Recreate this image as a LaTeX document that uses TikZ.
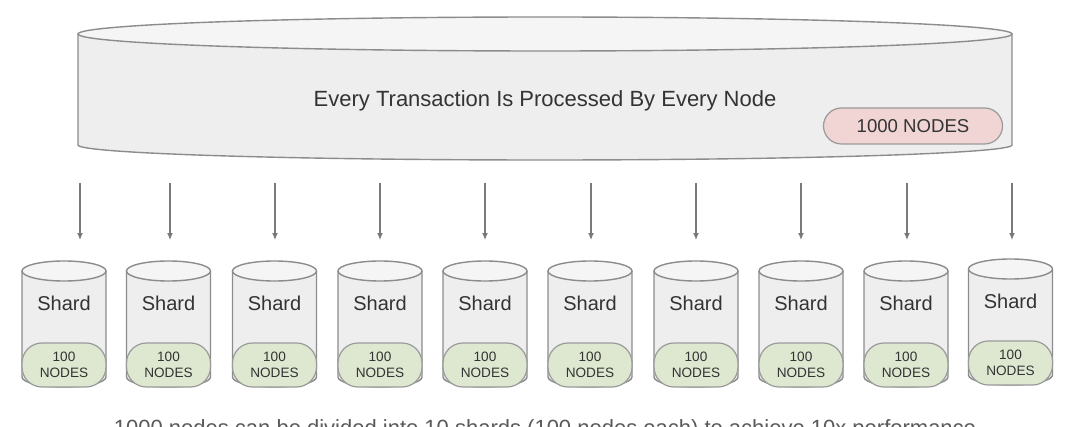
\documentclass[tikz,border=0pt]{standalone}
\usepackage{fontspec}
\setmainfont{Liberation Sans}
\usetikzlibrary{arrows.meta}
\definecolor{cylbody}{HTML}{EEEEEE}
\definecolor{cyltop}{HTML}{F5F5F5}
\definecolor{cylline}{HTML}{8C8C8C}
\definecolor{pinkfill}{HTML}{F1D4D4}
\definecolor{greenfill}{HTML}{DEE8D1}
\definecolor{pillline}{HTML}{9A9A9A}
\definecolor{txt}{HTML}{333333}
\definecolor{captxt}{HTML}{5A5A5A}
\definecolor{arr}{HTML}{7A7A7A}
\tikzset{
  cylborder/.style={draw=cylline, line width=0.7pt},
  pinkpill/.style={draw=pillline, line width=0.6pt, fill=pinkfill, rounded corners=9pt,
    minimum width=89.5pt, minimum height=18pt, inner sep=0pt, text=txt,
    font=\fontsize{9.3pt}{11pt}\selectfont},
  greenpill/.style={draw=pillline, line width=0.6pt, fill=greenfill, rounded corners=10pt,
    minimum width=42pt, minimum height=22pt, inner sep=0pt, text=txt, align=center,
    font=\fontsize{6.8pt}{8.3pt}\selectfont},
  shardlabel/.style={text=txt, inner sep=0pt, font=\fontsize{10pt}{12pt}\selectfont},
  titlelabel/.style={text=txt, inner sep=0pt, anchor=base, font=\fontsize{11pt}{13pt}\selectfont},
  caption/.style={text=captxt, inner sep=0pt, anchor=base, font=\fontsize{11pt}{13pt}\selectfont},
  flow/.style={draw=arr, line width=0.6pt, -{Latex[length=3.5pt,width=3pt]}},
}
\begin{document}
\begin{tikzpicture}[x=0.5pt,y=-0.5pt]
\useasboundingbox (0,0) rectangle (1080,427);
\fill[white] (0,0) rectangle (1080,427);
% big cylinder
\fill[cylbody] (78,34) -- (78,145) arc[start angle=180,end angle=360,x radius=233.5pt,y radius=7.5pt] -- (1012,34) -- cycle;
\draw[cylborder] (78,34) -- (78,145) arc[start angle=180,end angle=360,x radius=233.5pt,y radius=7.5pt] -- (1012,34);
\filldraw[cylborder, fill=cyltop] (545,34) ellipse[x radius=233.5pt, y radius=8.5pt];
\node[titlelabel] (title) at (545,107) {Every Transaction Is Processed By Every Node};
\node[pinkpill] (all) at (913,126) {1000 NODES};
% shards
\foreach \i/\cx/\ax/\dy in {1/64/80/0, 2/168.5/170/0, 3/274.5/275/0, 4/380/380/0, 5/485/485/0,
                          6/590/591/0, 7/696/696/0, 8/801/801/0, 9/906/907/0, 10/1010.5/1012/-2}{
  \begin{scope}[yshift={-0.5pt*\dy}]
  \fill[cylbody] (\cx-42,271) -- (\cx-42,377) arc[start angle=180,end angle=360,x radius=21pt,y radius=5pt] -- (\cx+42,271) -- cycle;
  \draw[cylborder] (\cx-42,271) -- (\cx-42,377) arc[start angle=180,end angle=360,x radius=21pt,y radius=5pt] -- (\cx+42,271);
  \filldraw[cylborder, fill=cyltop] (\cx,271) ellipse[x radius=21pt, y radius=5pt];
  \node[shardlabel] (shard\i) at (\cx,303) {Shard};
  \node[greenpill] (nodes\i) at (\cx,365) {100\\NODES};
  \end{scope}
  \coordinate (from\i) at (\ax,183);
  \coordinate (to\i) at (\ax,240);
  \draw[flow] (from\i) -- (to\i);
}
\node[caption] (cap) at (545,435) {1000 nodes can be divided into 10 shards (100 nodes each) to achieve 10x performance};
\end{tikzpicture}
\end{document}
